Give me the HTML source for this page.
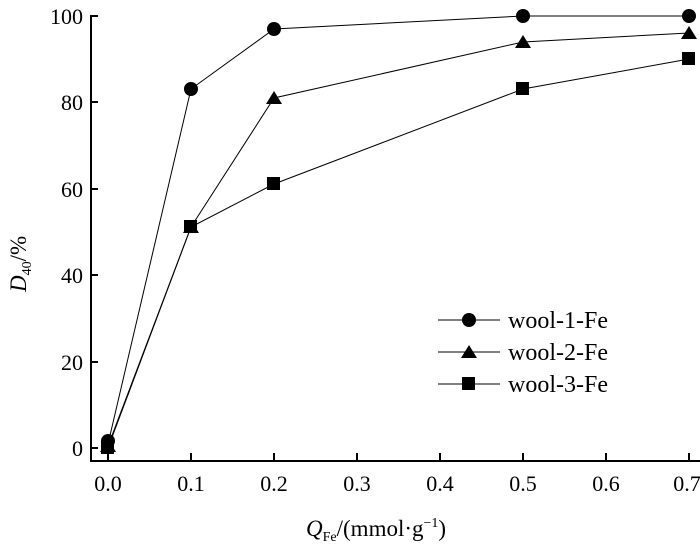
<!DOCTYPE html><html><head><style>body{margin:0;background:#fff}</style></head><body>
<svg width="700" height="552" xmlns="http://www.w3.org/2000/svg" font-family="Liberation Serif, serif" font-size="22">
<g stroke="#000" stroke-width="2" fill="none">
<path d="M91,15 V461 H700"/>
</g>
<g stroke="#000" stroke-width="2">
<line x1="91" y1="448" x2="98" y2="448"/><line x1="91" y1="362" x2="98" y2="362"/><line x1="91" y1="275" x2="98" y2="275"/><line x1="91" y1="189" x2="98" y2="189"/><line x1="91" y1="102" x2="98" y2="102"/><line x1="91" y1="16" x2="98" y2="16"/>
<line x1="108" y1="461" x2="108" y2="453"/><line x1="191" y1="461" x2="191" y2="453"/><line x1="274" y1="461" x2="274" y2="453"/><line x1="357" y1="461" x2="357" y2="453"/><line x1="440" y1="461" x2="440" y2="453"/><line x1="523" y1="461" x2="523" y2="453"/><line x1="606" y1="461" x2="606" y2="453"/><line x1="689" y1="461" x2="689" y2="453"/>
</g>
<g text-anchor="end">
<text x="83" y="456">0</text><text x="83" y="370">20</text><text x="83" y="283">40</text><text x="83" y="197">60</text><text x="83" y="110">80</text><text x="83" y="24">100</text>
</g>
<g text-anchor="middle">
<text x="108" y="491">0.0</text><text x="191" y="491">0.1</text><text x="274" y="491">0.2</text><text x="357" y="491">0.3</text><text x="440" y="491">0.4</text><text x="523" y="491">0.5</text><text x="606" y="491">0.6</text><text x="687" y="491">0.7</text>
</g>
<text x="306" y="536" font-size="23"><tspan font-style="italic">Q</tspan><tspan font-size="14" dy="5">Fe</tspan><tspan dy="-5">/(mmol·g</tspan><tspan font-size="14" dy="-9">−1</tspan><tspan dy="9">)</tspan></text>
<text transform="translate(26,292) rotate(-90)" font-size="23"><tspan font-style="italic">D</tspan><tspan font-size="14" dy="5">40</tspan><tspan dy="-5">/%</tspan></text>
<g stroke="#000" stroke-width="1" fill="none">
<polyline points="108,444 191,89 274,29 523,16 689,16"/>
<polyline points="108,446 191,227 274,98 523,42 689,33"/>
<polyline points="108,448 191,227 274,184 523,89 689,59"/>
<line x1="438" y1="320" x2="500" y2="320"/><line x1="438" y1="352" x2="500" y2="352"/><line x1="438" y1="384" x2="500" y2="384"/>
</g>
<g fill="#000">
<circle cx="108" cy="441" r="7"/><circle cx="191" cy="89" r="7"/><circle cx="274" cy="29" r="7"/><circle cx="523" cy="16" r="7"/><circle cx="689" cy="16" r="7"/><circle cx="469" cy="320" r="7"/>
<path d="M108,439 l8,13 h-16z M191,220 l8,13 h-16z M274,91 l8,13 h-16z M523,35 l8,13 h-16z M689,26 l8,13 h-16z M469,345 l8,13 h-16z"/>
<rect x="101" y="441" width="13" height="13"/><rect x="184" y="220" width="13" height="13"/><rect x="267" y="177" width="13" height="13"/><rect x="516" y="82" width="13" height="13"/><rect x="682" y="52" width="13" height="13"/><rect x="462" y="377" width="13" height="13"/>
</g>
<g font-size="24">
<text x="508" y="328">wool-1-Fe</text><text x="508" y="360">wool-2-Fe</text><text x="508" y="392">wool-3-Fe</text>
</g>
</svg></body></html>
